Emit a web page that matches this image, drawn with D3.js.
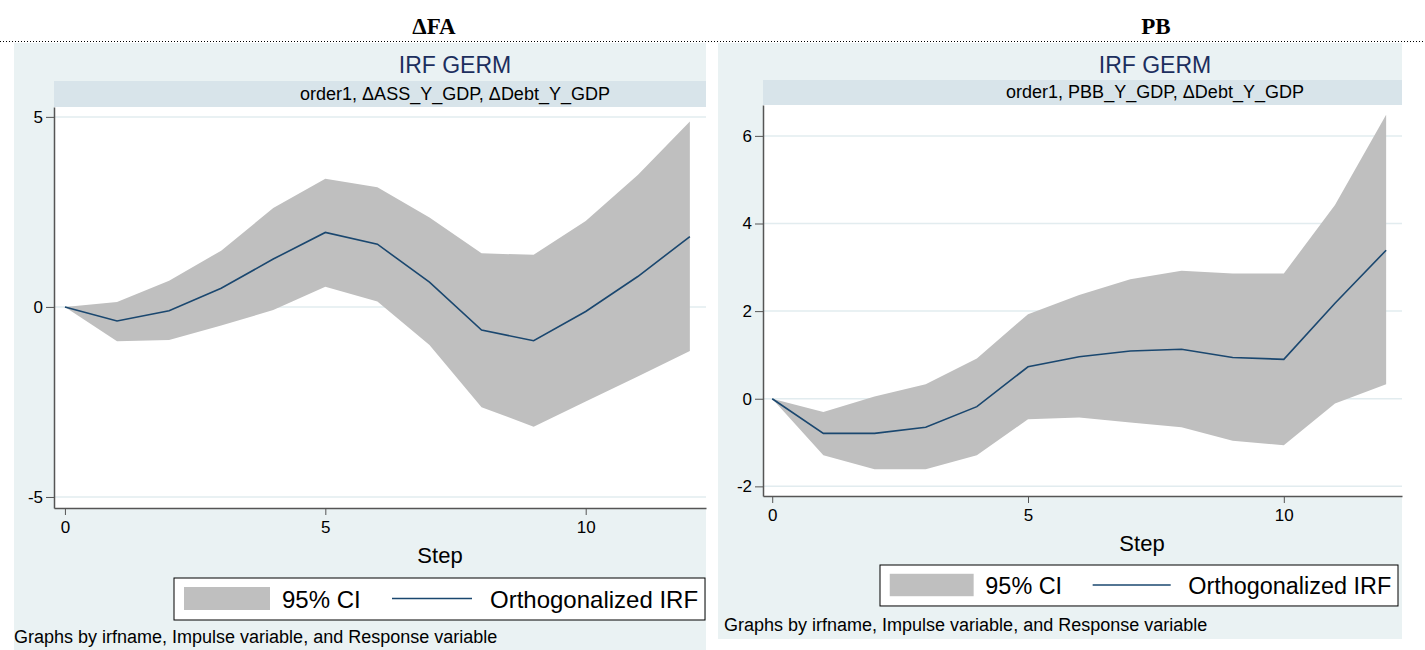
<!DOCTYPE html>
<html>
<head>
<meta charset="utf-8">
<script src="https://cdn.jsdelivr.net/npm/d3@7"></script>
<style>
  body { margin: 0; background: #fff; }
  svg { display: block; font-family: "Liberation Sans", Arial, sans-serif; }
</style>
</head>
<body>
<svg width="1425" height="650"></svg>
<script>
// data
const steps = [0, 1, 2, 3, 4, 5, 6, 7, 8, 9, 10, 11, 12]

const faIrf   = [0, -0.37, -0.10, 0.49, 1.26, 1.96, 1.65, 0.65, -0.61, -0.89, -0.12, 0.80, 1.85]
const faUpper = [0, 0.13, 0.69, 1.48, 2.60, 3.37, 3.15, 2.35, 1.41, 1.37, 2.26, 3.47, 4.88]
const faLower = [0, -0.90, -0.87, -0.49, -0.08, 0.53, 0.14, -1.00, -2.64, -3.15, -2.49, -1.83, -1.16]

const pbIrf   = [0, -0.79, -0.79, -0.65, -0.18, 0.73, 0.96, 1.09, 1.13, 0.94, 0.90, 2.18, 3.39]
const pbUpper = [0, -0.30, 0.05, 0.33, 0.92, 1.93, 2.37, 2.73, 2.92, 2.86, 2.86, 4.42, 6.48]
const pbLower = [0, -1.29, -1.61, -1.61, -1.29, -0.47, -0.43, -0.54, -0.65, -0.96, -1.06, -0.11, 0.33]

const ticksX = [0, 5, 10]
const faTicksY = [-5, 0, 5]
const pbTicksY = [-2, 0, 2, 4, 6]

const headers = ["\u0394FA", "PB"]
const title = "IRF GERM"
const faSubtitle = "order1, \u0394ASS_Y_GDP, \u0394Debt_Y_GDP"
const pbSubtitle = "order1, PBB_Y_GDP, \u0394Debt_Y_GDP"
const legendLabels = ["95% CI", "Orthogonalized IRF"]
const note = "Graphs by irfname, Impulse variable, and Response variable"

const ciColor = "#bfbfbf"
const lineColor = "#1a476f"

const svg = d3.select("svg")

// header row with the dotted rule
svg.append("text")
  .attr("x", 434).attr("y", 34)
  .attr("text-anchor", "middle")
  .style("font-family", "'Liberation Serif', 'Times New Roman', serif")
  .style("font-weight", "bold").style("font-size", "23px")
  .text(headers[0])

svg.append("text")
  .attr("x", 1156).attr("y", 34)
  .attr("text-anchor", "middle")
  .style("font-family", "'Liberation Serif', 'Times New Roman', serif")
  .style("font-weight", "bold").style("font-size", "23px")
  .text(headers[1])

svg.append("line")
  .attr("x1", 0).attr("x2", 1425)
  .attr("y1", 41.5).attr("y2", 41.5)
  .attr("stroke", "#000")
  .attr("stroke-dasharray", "1,2")


const drawPanel = function(p) {
  const g = svg.append("g")

  // outer graph region
  g.append("rect")
    .attr("x", p.bg[0]).attr("y", p.bg[1])
    .attr("width", p.bg[2]).attr("height", p.bg[3])
    .attr("fill", "#eaf2f3")

  g.append("text")
    .attr("x", p.center).attr("y", 73)
    .attr("text-anchor", "middle")
    .attr("fill", "#1c2f5e")
    .style("font-size", "23px")
    .text(title)

  // by-band
  g.append("rect")
    .attr("x", p.left).attr("y", p.bandTop)
    .attr("width", p.right - p.left).attr("height", p.top - p.bandTop)
    .attr("fill", "#d8e4ea")

  g.append("text")
    .attr("x", p.center).attr("y", p.top - 7)
    .attr("text-anchor", "middle")
    .style("font-size", "18px")
    .text(p.subtitle)

  // plot region
  g.append("rect")
    .attr("x", p.left).attr("y", p.top)
    .attr("width", p.right - p.left).attr("height", p.bottom - p.top)
    .attr("fill", "#fff")

  const scaleX = d3.scaleLinear()
    .domain(p.xDomain)
    .range([p.left, p.right])

  const scaleY = d3.scaleLinear()
    .domain(p.yDomain)
    .range([p.bottom, p.top])

  // grid
  g.selectAll("line.grid")
    .data(p.ticksY)
    .enter()
    .append("line")
    .attr("class", "grid")
    .attr("x1", p.left).attr("x2", p.right)
    .attr("y1", d => scaleY(d)).attr("y2", d => scaleY(d))
    .attr("stroke", "#e2ecef")
    .attr("stroke-width", 1.5)

  const rows = steps.map((s, i) => ({ step: s, irf: p.irf[i], lo: p.lower[i], hi: p.upper[i] }))

  const area = d3.area()
    .x(d => scaleX(d.step))
    .y0(d => scaleY(d.lo))
    .y1(d => scaleY(d.hi))

  const line = d3.line()
    .x(d => scaleX(d.step))
    .y(d => scaleY(d.irf))

  g.append("path")
    .datum(rows)
    .attr("d", area)
    .attr("fill", ciColor)

  g.append("path")
    .datum(rows)
    .attr("d", line)
    .attr("fill", "none")
    .attr("stroke", lineColor)
    .attr("stroke-width", 1.6)

  // axes (stata prints a plain hyphen for negatives)
  const axisY = d3.axisLeft(scaleY)
    .tickValues(p.ticksY)
    .tickFormat(d => String(d))
    .tickSizeInner(8)
    .tickSizeOuter(0)
    .tickPadding(3)

  const axisX = d3.axisBottom(scaleX)
    .tickValues(ticksX)
    .tickFormat(d => String(d))
    .tickSizeInner(7)
    .tickSizeOuter(0)
    .tickPadding(6)

  const gy = g.append("g")
    .attr("transform", `translate(${p.left}, 0)`)
    .call(axisY)

  const gx = g.append("g")
    .attr("transform", `translate(0, ${p.bottom})`)
    .call(axisX)

  ;[gx, gy].forEach(a => {
    a.select(".domain").attr("stroke", "#555").attr("stroke-width", 1.5)
    a.selectAll(".tick line").attr("stroke", "#555").attr("stroke-width", 1)
    a.selectAll(".tick text")
      .attr("fill", "#000")
      .style("font-family", "'Liberation Sans', Arial, sans-serif")
      .style("font-size", "17px")
  })

  g.append("text")
    .attr("x", p.stepX).attr("y", p.bottom + 55)
    .attr("text-anchor", "middle")
    .style("font-size", "22px")
    .text("Step")

  // legend, laid out in a 531 wide box and shrunk to fit
  const k = p.legend[2] / 531
  const lg = g.append("g")
    .attr("transform", `translate(${p.legend[0]}, ${p.legend[1]}) scale(${k})`)

  lg.append("rect")
    .attr("x", 0).attr("y", 0)
    .attr("width", 531).attr("height", 42)
    .attr("fill", "#fff")
    .attr("stroke", "#000")
    .attr("stroke-width", 1 / k)

  lg.append("rect")
    .attr("x", 10).attr("y", 9)
    .attr("width", 86).attr("height", 23)
    .attr("fill", ciColor)

  lg.append("text")
    .attr("x", 108).attr("y", 30)
    .style("font-size", "24px")
    .text(legendLabels[0])

  lg.append("line")
    .attr("x1", 218).attr("x2", 298)
    .attr("y1", 20.5).attr("y2", 20.5)
    .attr("stroke", lineColor)
    .attr("stroke-width", 1.6)

  lg.append("text")
    .attr("x", 316).attr("y", 30)
    .style("font-size", "24px")
    .text(legendLabels[1])

  g.append("text")
    .attr("x", p.noteX).attr("y", p.noteY)
    .style("font-size", "18px")
    .text(note)
}

drawPanel({
  bg: [14, 43, 692, 607],
  center: 455,
  bandTop: 81,
  left: 54, right: 706, top: 107, bottom: 508,
  xDomain: [-0.21, 12.31],
  yDomain: [-5.29, 5.26],
  ticksY: faTicksY,
  irf: faIrf, lower: faLower, upper: faUpper,
  subtitle: faSubtitle,
  stepX: 440,
  legend: [174, 578, 531],
  noteX: 14,
  noteY: 643
})

drawPanel({
  bg: [718, 43, 684, 596],
  center: 1155,
  bandTop: 80,
  left: 763, right: 1402, top: 105, bottom: 496,
  xDomain: [-0.18, 12.31],
  yDomain: [-2.22, 6.705],
  ticksY: pbTicksY,
  irf: pbIrf, lower: pbLower, upper: pbUpper,
  subtitle: pbSubtitle,
  stepX: 1142,
  legend: [880, 565, 518],
  noteX: 724,
  noteY: 631
})
</script>
</body>
</html>
